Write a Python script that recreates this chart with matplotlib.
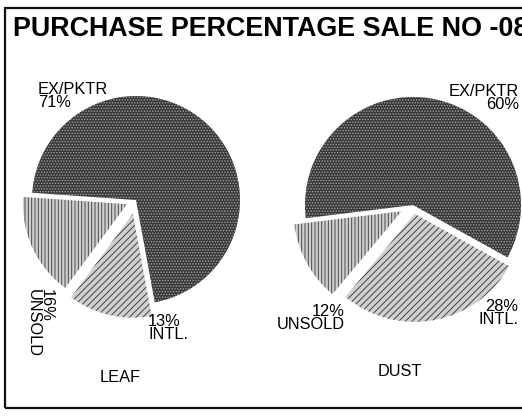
import matplotlib.pyplot as plt
from matplotlib.patches import Rectangle

plt.rcParams['font.family'] = ['Liberation Sans', 'DejaVu Sans']
plt.rcParams['hatch.linewidth'] = 0.7

# data
title = "PURCHASE PERCENTAGE SALE NO -08"
categories = ['EX/PKTR', 'INTL.', 'UNSOLD']
leaf_values = [71, 13, 16]
dust_values = [60, 28, 12]
pie_names = ['LEAF', 'DUST']

# style per slice
faces = ['#383838', '#d0d0d0', '#cfcfcf']
hatch_cols = ['#a0a0a0', '#444444', '#4a4a4a']
hatches = ['......', '/////', '|||||']

W, H = 522, 419
fig = plt.figure(figsize=(W / 100, H / 100), dpi=100)
ax = fig.add_axes([0, 0, 1, 1])


def draw_pie(values, center, radius, start, explode):
    wedges, _ = ax.pie(values, center=center, radius=radius, startangle=start,
                       counterclock=False, explode=explode)
    for w, fc, hc, h in zip(wedges, faces, hatch_cols, hatches):
        w.set_facecolor(fc)
        w.set_edgecolor(hc)
        w.set_hatch(h)
        w.set_linewidth(0)


# pixel layout -> data (y up)
draw_pie(leaf_values, (136, H - 200), 104, 176, [0, 14, 10])
draw_pie(dust_values, (413, H - 205), 108, 187, [0, 9, 13])

ax.set_xlim(0, W)
ax.set_ylim(0, H)
ax.set_aspect('equal')
ax.axis('off')

fs = 11.8
# LEAF labels
ax.text(38, H - 82, f"{categories[0]}\n{leaf_values[0]}%", fontsize=fs,
        ha='left', va='top', linespacing=0.85)
ax.text(148, H - 314, f"{leaf_values[1]}%\n{categories[1]}", fontsize=fs,
        ha='left', va='top', linespacing=0.85)
ax.text(40, H - 289, f"{leaf_values[2]}%\n{categories[2]}", fontsize=fs,
        ha='center', va='top', rotation=270, multialignment='left', linespacing=0.85)
ax.text(120, H - 377, pie_names[0], fontsize=fs, ha='center', va='center')

# DUST labels
ax.text(519, H - 84, f"{categories[0]}\n{dust_values[0]}%", fontsize=fs,
        ha='right', va='top', multialignment='right', linespacing=0.85)
ax.text(518, H - 299, f"{dust_values[1]}%\n{categories[1]}", fontsize=fs,
        ha='right', va='top', multialignment='right', linespacing=0.85)
ax.text(345, H - 304, f"{dust_values[2]}%\n{categories[2]}", fontsize=fs,
        ha='right', va='top', multialignment='right', linespacing=0.85)
ax.text(400, H - 372, pie_names[1], fontsize=fs, ha='center', va='center')

# title (cut at the right edge as in the scan) and frame
fig.text(13 / W, 1 - 16 / H, title, fontsize=19.4, fontweight='bold',
         ha='left', va='top')
fig.add_artist(Rectangle((5 / W, 1 - 408 / H), 600 / W, 400 / H,
                         transform=fig.transFigure, fill=False,
                         edgecolor='#111111', linewidth=1.6))

fig.savefig('out.png', dpi=100)
